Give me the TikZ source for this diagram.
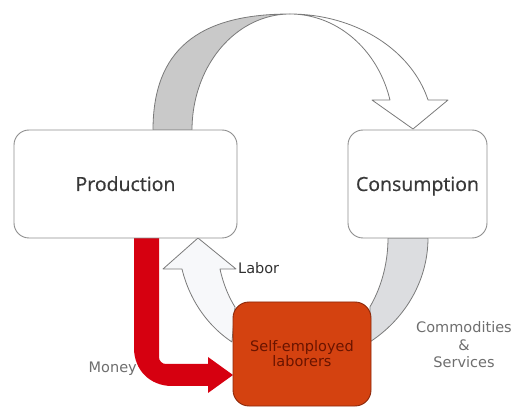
\documentclass[tikz,border=0pt]{standalone}
\usepackage{fontspec}
\setmainfont{Open Sans}
\newfontfamily\mainlab[FakeBold=0.6]{Open Sans}
\newfontfamily\smallfont{DejaVu Sans}
\definecolor{boxgray}{HTML}{8E8E8E}
\definecolor{edgegray}{HTML}{7A7A7A}
\definecolor{backgray}{HTML}{C9C9C9}
\definecolor{bandgray}{HTML}{DCDDE0}
\definecolor{laborwhite}{HTML}{F7F8FA}
\definecolor{moneyred}{RGB}{214,0,16}
\definecolor{selfred}{RGB}{212,66,16}
\definecolor{selfborder}{RGB}{140,40,10}
\definecolor{selftext}{RGB}{105,20,0}
\definecolor{maintext}{HTML}{383838}
\definecolor{labgray}{HTML}{6E6E6E}
\definecolor{laborcol}{HTML}{303030}
\begin{document}
\begin{tikzpicture}[x=1pt,y=-1pt,
  box/.style={draw=boxgray, line width=0.9pt, fill=white, rounded corners=15pt,
    inner sep=0pt, text=maintext, text height=14pt, text depth=0pt,
    font=\mainlab\fontsize{19.5}{22}\selectfont},
  shapeedge/.style={draw=edgegray, line width=0.8pt, line join=round},
  selfbox/.style={draw=selfborder, line width=0.9pt, fill=selfred, rounded corners=16pt,
    inner sep=0pt, align=center, text=selftext, font=\smallfont\fontsize{14.5}{15}\selectfont},
  lab/.style={inner sep=0pt, text=labgray, font=\smallfont\fontsize{14.5}{17.5}\selectfont}]
\useasboundingbox (0,0) rectangle (515,409);
% top curved arrow: back (gray) part
\path[shapeedge, fill=backgray]
  (153,130) .. controls (153,51) and (197,14) .. (290,14)
  -- plot[domain=90:180, samples=40] ({290+98*cos(\x)},{130-116*sin(\x)}) -- cycle;
% top curved arrow: front (white) part with head
\path[shapeedge, fill=white]
  plot[domain=90:15, samples=40] ({290+142.9*cos(\x)},{130-116*sin(\x)})
  -- (448,100) -- (413,129) -- (372,100)
  -- plot[domain=15:90, samples=40] ({290+103.5*cos(\x)},{130-116*sin(\x)}) -- cycle;
% commodities band
\path[shapeedge, fill=bandgray]
  plot[domain=0:54.5, samples=30] ({290+138*cos(\x)},{238+127.5*sin(\x)})
  -- plot[domain=35.3:0, samples=30] ({290+98*cos(\x)},{238+119*sin(\x)}) -- cycle;
% labor arrow
\path[shapeedge, fill=laborwhite]
  (236,269) -- (198,238) -- (163,269) -- (182,269)
  -- plot[domain=165.2:121.3, samples=30] ({290+111.7*cos(\x)},{238+121.7*sin(\x)})
  -- plot[domain=138.6:162.7, samples=30] ({290+73.3*cos(\x)},{238+104.4*sin(\x)}) -- cycle;
% money arrow
\path[fill=moneyred]
  (134,238) -- (134,348) .. controls (134,370) and (150,386) .. (172,386)
  -- (208,386) -- (208,393) -- (233,375) -- (208,357) -- (208,364)
  -- (166,364) .. controls (162,364) and (159,361) .. (159,357) -- (159,238) -- cycle;
% boxes
\node[box, minimum width=223pt, minimum height=108pt] (prod) at (125.5,184) {Production};
\node[box, minimum width=139pt, minimum height=108pt] (cons) at (417.5,184) {Consumption};
\node[selfbox, minimum width=138pt, minimum height=104pt] (self) at (302,354) {Self-employed\\laborers};
% labels
\node[lab, anchor=east] (money) at (137,369) {Money};
\node[lab, anchor=west, text=laborcol] (labor) at (238,268) {Labor};
\node[lab, align=center] (comm) at (464,345) {Commodities\\\&\\Services};
\end{tikzpicture}
\end{document}
